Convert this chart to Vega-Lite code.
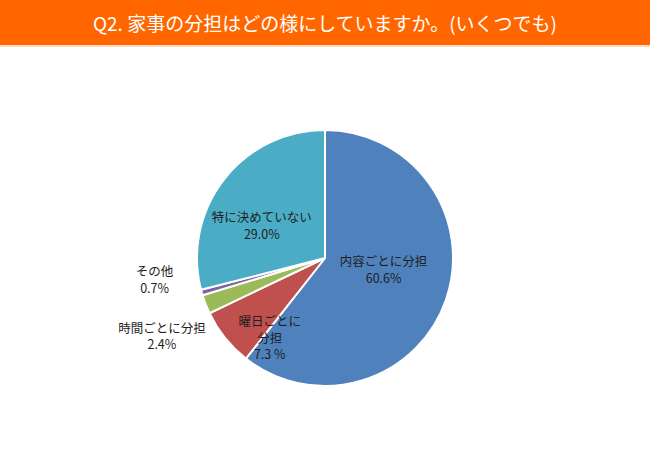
{
  "$schema": "https://vega.github.io/schema/vega-lite/v6.json",
  "padding": 0,
  "spacing": 15,
  "background": "white",
  "config": {"view": {"stroke": null}, "text": {"font": "Noto Sans CJK JP"}},
  "vconcat": [
    {
      "spacing": 0,
      "vconcat": [
        {
          "width": 650,
          "height": 45,
          "view": {"fill": "#FF6600", "stroke": null},
          "data": {"values": [{"t": "Q2. 家事の分担はどの様にしていますか。(いくつでも)"}]},
          "mark": {"type": "text", "color": "white", "fontSize": 19, "dy": 2.5, "font": "Noto Sans CJK JP"},
          "encoding": {"text": {"field": "t", "type": "nominal"}}
        },
        {
          "width": 650,
          "height": 2,
          "data": {"values": [{"t": "band"}]},
          "mark": {"type": "rect", "color": "#FCDCC2"},
          "encoding": {}
        }
      ]
    },
    {
      "width": 650,
      "height": 392,
      "data": {"values": [
        {"cat": "内容ごとに分担", "value": 60.6, "label": "内容ごとに分担\n60.6%", "i": 1},
        {"cat": "曜日ごとに分担", "value": 7.3, "label": "曜日ごとに\n分担\n7.3 %", "i": 2},
        {"cat": "時間ごとに分担", "value": 2.4, "label": "時間ごとに分担\n2.4%", "i": 3},
        {"cat": "その他", "value": 0.7, "label": "その他\n0.7%", "i": 4},
        {"cat": "特に決めていない", "value": 29.0, "label": "特に決めていない\n29.0%", "i": 5}
      ]},
      "transform": [
        {"stack": "value", "groupby": [], "sort": [{"field": "i", "order": "ascending"}], "as": ["v0", "v1"]},
        {"calculate": "(datum.v0 + datum.v1) / 2", "as": "mid"}
      ],
      "layer": [
        {
          "mark": {"type": "arc", "outerRadius": 128, "stroke": "white", "strokeWidth": 2},
          "encoding": {
            "theta": {"field": "v0", "type": "quantitative", "scale": {"domain": [0, 100]}},
            "theta2": {"field": "v1"},
            "color": {"field": "cat", "type": "nominal", "legend": null,
              "scale": {"domain": ["内容ごとに分担", "曜日ごとに分担", "時間ごとに分担", "その他", "特に決めていない"],
                        "range": ["#4F81BD", "#C0504D", "#9BBB59", "#8064A2", "#4BACC6"]}}
          }
        },
        {
          "transform": [{"filter": "datum.i == 1"}],
          "mark": {"type": "text", "radius": 62, "dy": -16, "fontSize": 12.5, "lineHeight": 16.5, "lineBreak": "\n", "color": "#1E1E1E"},
          "encoding": {"theta": {"field": "mid", "type": "quantitative"}, "text": {"field": "label"}}
        },
        {
          "transform": [{"filter": "datum.i == 2"}],
          "mark": {"type": "text", "radius": 90, "dx": 15, "dy": 8, "fontSize": 12.5, "lineHeight": 16.5, "lineBreak": "\n", "color": "#1E1E1E"},
          "encoding": {"theta": {"field": "mid", "type": "quantitative"}, "text": {"field": "label"}}
        },
        {
          "transform": [{"filter": "datum.i == 3"}],
          "mark": {"type": "text", "radius": 175, "dy": 7.5, "fontSize": 12.5, "lineHeight": 16.5, "lineBreak": "\n", "color": "#1E1E1E"},
          "encoding": {"theta": {"field": "mid", "type": "quantitative"}, "text": {"field": "label"}}
        },
        {
          "transform": [{"filter": "datum.i == 4"}],
          "mark": {"type": "text", "radius": 177, "dy": -33.5, "fontSize": 12.5, "lineHeight": 16.5, "lineBreak": "\n", "color": "#1E1E1E"},
          "encoding": {"theta": {"field": "mid", "type": "quantitative"}, "text": {"field": "label"}}
        },
        {
          "transform": [{"filter": "datum.i == 5"}],
          "mark": {"type": "text", "radius": 80, "dy": 9.5, "fontSize": 12.5, "lineHeight": 16.5, "lineBreak": "\n", "color": "#1E1E1E"},
          "encoding": {"theta": {"field": "mid", "type": "quantitative"}, "text": {"field": "label"}}
        }
      ]
    }
  ]
}
